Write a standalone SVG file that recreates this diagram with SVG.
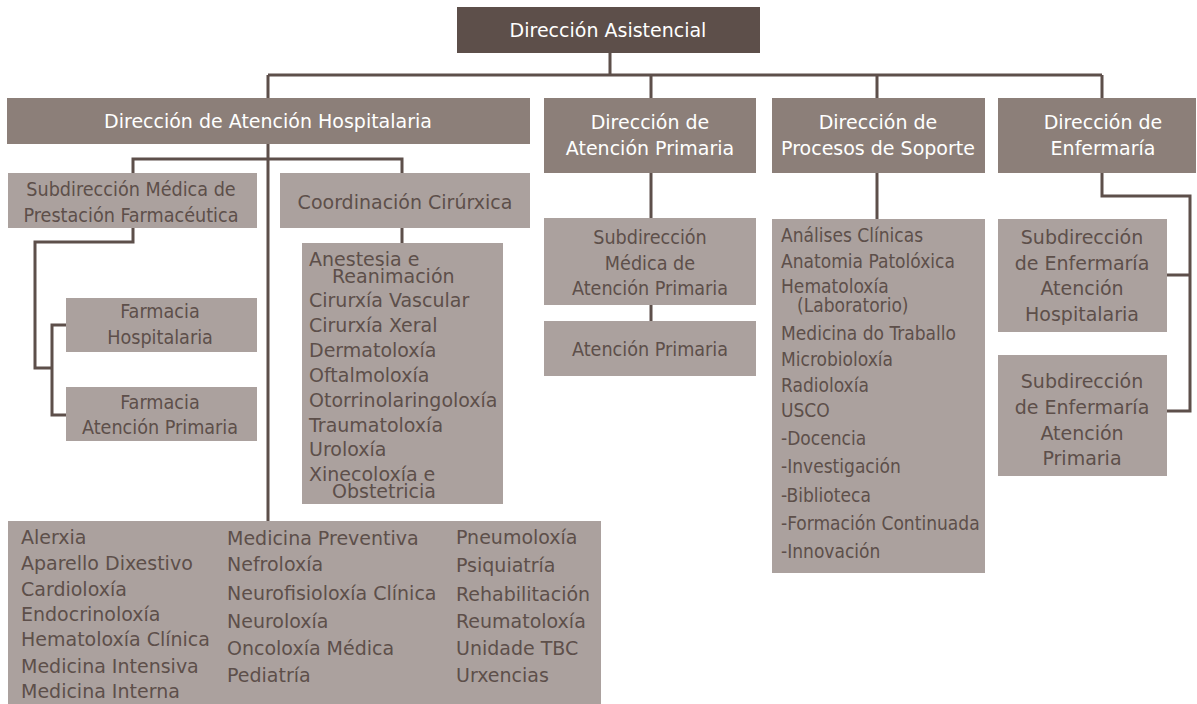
<svg xmlns="http://www.w3.org/2000/svg" width="1197" height="704" viewBox="0 0 1197 704">
<style>
text{font-family:"DejaVu Sans","Liberation Sans",sans-serif;font-size:19px}
.cn text{font-family:"DejaVu Sans Condensed","DejaVu Sans","Liberation Sans Narrow",sans-serif;font-size:19.6px}
.cl text{font-family:"DejaVu Sans Condensed","DejaVu Sans","Liberation Sans Narrow",sans-serif;font-size:19px}
.top{fill:#5d4f4a}
.hdr{fill:#8c7f79}
.sub{fill:#aba19e}
.w{fill:#ffffff}
.d{fill:#5d4f4a}
.c{text-anchor:middle}
.conn{fill:none;stroke:#5d4f4a;stroke-width:3}
</style>
<rect width="1197" height="704" fill="#ffffff"/>
<g id="connectors" class="conn">
<path d="M610,53V75M268,75H1102M268,75V521M651,75V98M877,75V98M1102,75V98"/>
<path d="M133,173V159H402V173M402,228V243"/>
<path d="M133,228V242H35V368H52M66,325H52V415H66"/>
<path d="M651,173V218M651,305V321"/>
<path d="M877,173V219"/>
<path d="M1102,173V196H1190V411H1167M1167,275H1190"/>
</g>
<g id="n-asistencial"><rect class="top" x="457" y="7" width="303" height="46"/><text class="w c" x="608" y="37">Dirección Asistencial</text></g>
<g id="n-hospitalaria"><rect class="hdr" x="7" y="98" width="523" height="46"/><text class="w c" x="268" y="128">Dirección de Atención Hospitalaria</text></g>
<g id="n-primaria"><rect class="hdr" x="544" y="98" width="212" height="75"/><text class="w c" x="650" y="129">Dirección de</text><text class="w c" x="650" y="155">Atención Primaria</text></g>
<g id="n-soporte"><rect class="hdr" x="772" y="98" width="213" height="75"/><text class="w c" x="878" y="129">Dirección de</text><text class="w c" x="878" y="155">Procesos de Soporte</text></g>
<g id="n-enfermaria"><rect class="hdr" x="998" y="98" width="198" height="75"/><text class="w c" x="1103" y="129">Dirección de</text><text class="w c" x="1103" y="155">Enfermaría</text></g>
<g id="n-subfarma" class="cn"><rect class="sub" x="8" y="173" width="249" height="55"/><text class="d c" x="131" y="196">Subdirección Médica de</text><text class="d c" x="131" y="222">Prestación Farmacéutica</text></g>
<g id="n-coord"><rect class="sub" x="280" y="173" width="250" height="55"/><text class="d c" x="405" y="209">Coordinación Cirúrxica</text></g>
<g id="n-farmhosp" class="cn"><rect class="sub" x="66" y="298" width="191" height="54"/><text class="d c" x="160" y="318">Farmacia</text><text class="d c" x="160" y="344">Hospitalaria</text></g>
<g id="n-farmap" class="cn"><rect class="sub" x="66" y="387" width="191" height="54"/><text class="d c" x="160" y="409">Farmacia</text><text class="d c" x="160" y="434">Atención Primaria</text></g>
<g id="n-cirurxia"><rect class="sub" x="302" y="243" width="201" height="261"/>
<text class="d" x="309" y="266">Anestesia e</text><text class="d" x="332" y="283">Reanimación</text>
<text class="d" x="309" y="307">Cirurxía Vascular</text><text class="d" x="309" y="332">Cirurxía Xeral</text>
<text class="d" x="309" y="357">Dermatoloxía</text><text class="d" x="309" y="382">Oftalmoloxía</text>
<text class="d" x="309" y="407">Otorrinolaringoloxía</text><text class="d" x="309" y="432">Traumatoloxía</text>
<text class="d" x="309" y="456">Uroloxía</text><text class="d" x="309" y="481">Xinecoloxía e</text><text class="d" x="332" y="498">Obstetricia</text></g>
<g id="n-subap" class="cn"><rect class="sub" x="544" y="218" width="212" height="87"/><text class="d c" x="650" y="244">Subdirección</text><text class="d c" x="650" y="270">Médica de</text><text class="d c" x="650" y="295">Atención Primaria</text></g>
<g id="n-ap" class="cn"><rect class="sub" x="544" y="321" width="212" height="55"/><text class="d c" x="650" y="356">Atención Primaria</text></g>
<g id="n-soportelist" class="cl"><rect class="sub" x="772" y="219" width="213" height="354"/>
<text class="d" x="781" y="242">Análises Clínicas</text><text class="d" x="781" y="268">Anatomia Patolóxica</text>
<text class="d" x="781" y="293">Hematoloxía</text><text class="d" x="797" y="312">(Laboratorio)</text>
<text class="d" x="781" y="340">Medicina do Traballo</text><text class="d" x="781" y="366">Microbioloxía</text>
<text class="d" x="781" y="392">Radioloxía</text><text class="d" x="781" y="417">USCO</text>
<text class="d" x="781" y="445">-Docencia</text><text class="d" x="781" y="473">-Investigación</text>
<text class="d" x="781" y="502">-Biblioteca</text><text class="d" x="781" y="530">-Formación Continuada</text>
<text class="d" x="781" y="558">-Innovación</text></g>
<g id="n-enfah"><rect class="sub" x="998" y="219" width="169" height="113"/><text class="d c" x="1082" y="244">Subdirección</text><text class="d c" x="1082" y="270">de Enfermaría</text><text class="d c" x="1082" y="295">Atención</text><text class="d c" x="1082" y="321">Hospitalaria</text></g>
<g id="n-enfap"><rect class="sub" x="998" y="355" width="169" height="121"/><text class="d c" x="1082" y="388">Subdirección</text><text class="d c" x="1082" y="414">de Enfermaría</text><text class="d c" x="1082" y="440">Atención</text><text class="d c" x="1082" y="465">Primaria</text></g>
<g id="n-especialidades"><rect class="sub" x="8" y="521" width="593" height="183"/>
<text class="d" x="21" y="544">Alerxia</text><text class="d" x="21" y="570">Aparello Dixestivo</text><text class="d" x="21" y="596">Cardioloxía</text><text class="d" x="21" y="621">Endocrinoloxía</text><text class="d" x="21" y="646">Hematoloxía Clínica</text><text class="d" x="21" y="673">Medicina Intensiva</text><text class="d" x="21" y="698">Medicina Interna</text>
<text class="d" x="227" y="545">Medicina Preventiva</text><text class="d" x="227" y="571">Nefroloxía</text><text class="d" x="227" y="600">Neurofisioloxía Clínica</text><text class="d" x="227" y="628">Neuroloxía</text><text class="d" x="227" y="655">Oncoloxía Médica</text><text class="d" x="227" y="682">Pediatría</text>
<text class="d" x="456" y="544">Pneumoloxía</text><text class="d" x="456" y="572">Psiquiatría</text><text class="d" x="456" y="601">Rehabilitación</text><text class="d" x="456" y="628">Reumatoloxía</text><text class="d" x="456" y="655">Unidade TBC</text><text class="d" x="456" y="682">Urxencias</text></g>
</svg>
